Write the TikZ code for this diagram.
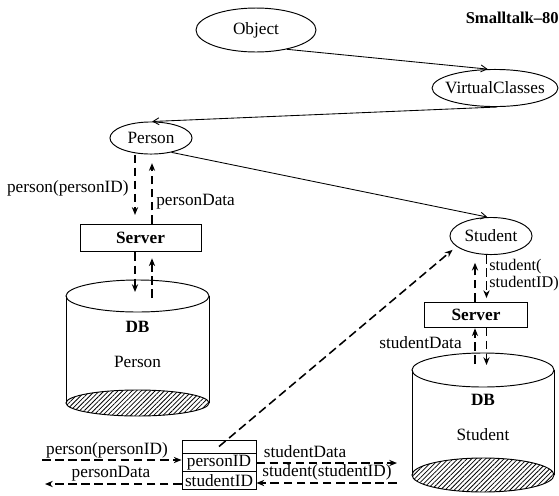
\documentclass[tikz,border=0pt]{standalone}
\usepackage{fontspec}
\setmainfont{Liberation Serif}
\usetikzlibrary{arrows.meta,patterns.meta,calc,shapes.geometric}
\begin{document}
\begin{tikzpicture}[x=0.58pt,y=-0.58pt,
  font=\fontsize{10}{11}\selectfont,
  cls/.style={draw,ellipse,line width=0.55pt,inner sep=0pt},
  srvbox/.style={draw,rectangle,line width=0.55pt,inner sep=0pt,font=\fontsize{10}{11}\selectfont\bfseries},
  cell/.style={draw,rectangle,line width=0.55pt,inner sep=0pt,minimum width=42.9pt},
  inherit/.style={line width=0.5pt,-{Straight Barb[length=3.5pt,width=4pt]}},
  flow/.style={line width=0.9pt,dash pattern=on 5pt off 2.6pt,-{Stealth[length=4.5pt,width=3.6pt]}},
  hatch/.style={pattern={Lines[angle=45,distance=1.9pt,line width=0.45pt]}},
  lbl/.style={inner sep=0pt}]
\useasboundingbox (0,0) rectangle (559,495);

% class hierarchy
\node[cls,minimum width=69.6pt,minimum height=25.5pt] (obj) at (256,30) {Object};
\node[cls,minimum width=73pt,minimum height=21.5pt,inner xsep=-3.6pt] (vc) at (495,88) {VirtualClasses};
\node[cls,minimum width=47.6pt,minimum height=18.6pt] (per) at (151,138) {Person};
\node[cls,minimum width=47.6pt,minimum height=21.5pt] (stu) at (491,236) {Student};
\node[lbl,anchor=east,font=\fontsize{9.6}{11}\selectfont\bfseries] (st80) at (559,18) {Smalltalk--80};

\draw[inherit] (obj.-32) -- (vc.111);
\draw[inherit] (vc.-83) -- (per.86);
\draw[inherit] (per.-35) -- (stu.101);

% servers
\node[srvbox,minimum width=70.2pt,minimum height=16.2pt] (srvP) at (140.5,238) {Server};
\node[srvbox,minimum width=59.2pt,minimum height=14.5pt] (srvS) at (476,314.5) {Server};

% database cylinders
\draw[line width=0.55pt,hatch] (137.5,403) ellipse [x radius=71.5,y radius=13];
\draw[line width=0.55pt] (66,296) -- (66,403) (209,296) -- (209,403);
\draw[line width=0.55pt] (137.5,296) ellipse [x radius=71.5,y radius=16];
\node[lbl,font=\fontsize{10}{11}\selectfont\bfseries] (dbPa) at (137.5,327) {DB};
\node[lbl] (dbPb) at (137.5,362) {Person};

\draw[line width=0.55pt,hatch] (483,475) ellipse [x radius=71,y radius=17];
\draw[line width=0.55pt] (412,370) -- (412,475) (554,370) -- (554,475);
\draw[line width=0.55pt] (483,370) ellipse [x radius=71,y radius=17];
\node[lbl,font=\fontsize{10}{11}\selectfont\bfseries] (dbSa) at (483,400) {DB};
\node[lbl] (dbSb) at (483,435) {Student};

% columns of the message lines
\coordinate (pL) at (135,0);
\coordinate (pR) at (152,0);
\coordinate (sL) at (475,0);
\coordinate (sR) at (486.5,0);
\coordinate (dbPin) at (0,292);
\coordinate (dbPout) at (0,298);
\coordinate (dbSin) at (0,365);
\coordinate (dbSout) at (0,364);

% Person <-> Server <-> DB
\draw[flow,shorten >=5pt] (per.south -| pL) -- (srvP.north -| pL);
\draw[flow,shorten >=5pt] (srvP.north -| pR) -- (per.south -| pR);
\draw[flow] (srvP.south -| pL) -- (dbPin -| pL);
\draw[flow,shorten >=3.4pt] (dbPout -| pR) -- (srvP.south -| pR);
\node[lbl,anchor=east] (lpq) at (129,188) {person(personID)};
\node[lbl,anchor=west] (lpd) at (156,202) {personData};

% Student <-> Server <-> DB
\draw[flow,shorten >=4.5pt] (srvS.north -| sL) -- (stu.south -| sL);
\draw[flow,shorten >=2pt] (stu.south -| sR) -- (srvS.north -| sR);
\draw[flow,shorten >=0.5pt] (dbSout -| sL) -- (srvS.south -| sL);
\draw[flow] (srvS.south -| sR) -- (dbSin -| sR);
\node[lbl,anchor=north west,align=left,font=\fontsize{9.4}{10}\selectfont] (lsq) at (489,259) {student(\\studentID)};
\node[lbl,anchor=east] (lsd) at (462,343) {studentData};

% key table
\node[cell,minimum height=7.5pt] (tabTop) at (219,446.5) {};
\node[cell,minimum height=9.9pt,anchor=north] (tabPid) at (tabTop.south) {personID};
\node[cell,minimum height=10.4pt,anchor=north] (tabSid) at (tabPid.south) {studentID};

\draw[flow,shorten >=3pt] (tabTop.center) -- (stu.197);

\coordinate (inL) at (42,460);
\coordinate (outL) at (45,484);
\coordinate (outR) at (397,463);
\coordinate (inR) at (397,483);
\draw[flow] (inL) -- (inL -| tabPid.west);
\draw[flow] (tabSid.west |- outL) -- (outL);
\draw[flow] (tabPid.east |- outR) -- (outR);
\draw[flow] (inR) -- (inR -| tabSid.east);
\node[lbl] (lbq) at (107,450) {person(personID)};
\node[lbl] (lbd) at (111,474) {personData};
\node[lbl] (lbsd) at (305,452) {studentData};
\node[lbl] (lbsq) at (327,472) {student(studentID)};
\end{tikzpicture}
\end{document}
